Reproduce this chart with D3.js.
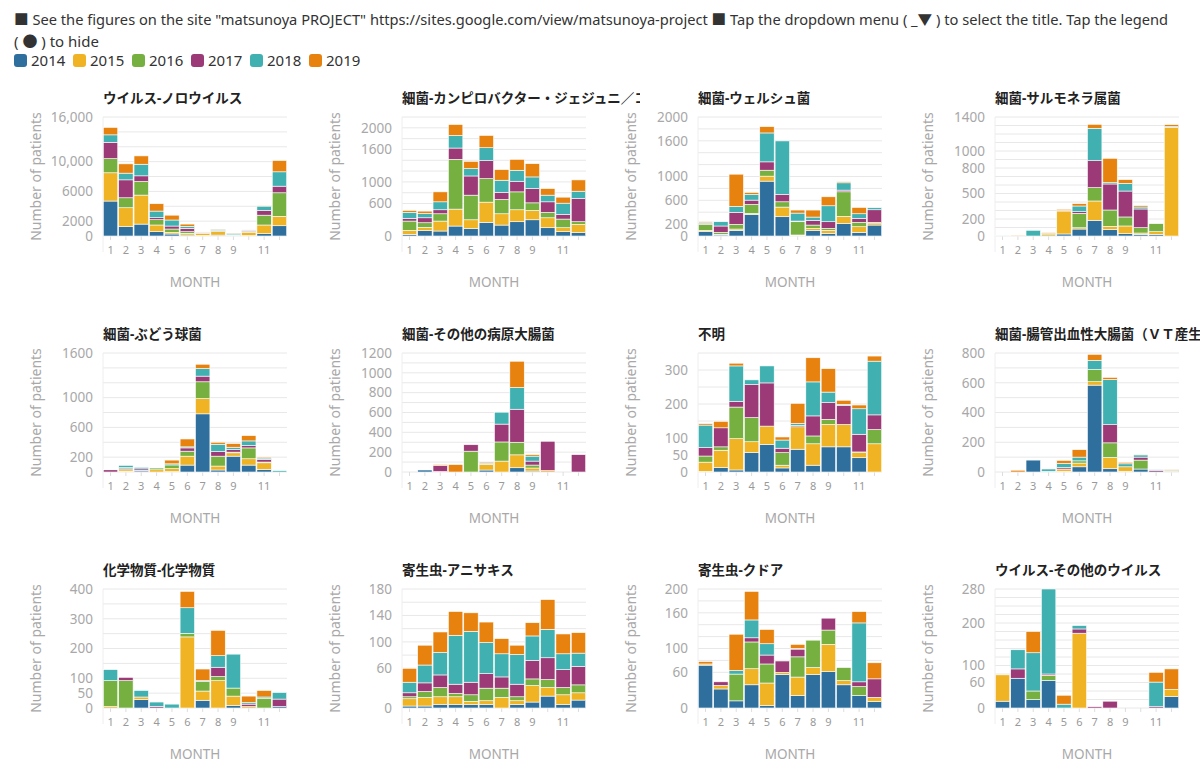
<!DOCTYPE html>
<html>
<head>
<script src="https://cdn.jsdelivr.net/npm/d3@7"></script>
<style>
  body { margin: 0; background: #fff; font-family: "Source Sans Pro", "Noto Sans", "Noto Sans CJK JP", sans-serif; }
  #chart { width: 1200px; height: 768px; }
</style>
</head>
<body>
<svg id="chart"></svg>
<script>
const years = ["2014", "2015", "2016", "2017", "2018", "2019"];
const colors = ["#2e6f9e", "#f0b323", "#76b041", "#9b3a76", "#40b0b0", "#e8820e"];
const monthLabels = ["1", "2", "3", "4", "5", "6", "7", "8", "9", "", "11", ""];

// each panel: one row per year (2014..2019), 12 monthly values
const norovirus = [
  [4700, 1250, 1600, 580, 270, 130, 80, 120, 40, 60, 310, 1380],
  [3800, 2550, 3900, 900, 220, 230, 250, 480, 60, 450, 1170, 1260],
  [1900, 1340, 1830, 710, 450, 220, 60, 120, 40, 100, 1320, 3170],
  [2200, 2410, 760, 270, 400, 450, 40, 60, 30, 150, 640, 890],
  [1000, 900, 1560, 890, 810, 270, 60, 130, 200, 50, 580, 1930],
  [1000, 1250, 1120, 990, 650, 300, 50, 30, 30, 80, 80, 1520]
];
const campylobacter = [
  [30, 98, 92, 184, 135, 252, 202, 264, 300, 153, 80, 61],
  [74, 62, 184, 313, 165, 374, 209, 221, 172, 184, 73, 154],
  [172, 85, 135, 920, 455, 435, 264, 331, 141, 99, 160, 49],
  [49, 92, 74, 209, 355, 332, 129, 196, 264, 196, 86, 429],
  [111, 80, 147, 233, 135, 239, 227, 203, 215, 123, 208, 135],
  [36, 43, 184, 202, 135, 227, 196, 202, 245, 122, 111, 209]
];
const welchii = [
  [73, 17, 95, 363, 922, 324, 5, 89, 45, 212, 61, 184],
  [22, 11, 22, 17, 84, 162, 12, 39, 50, 118, 95, 34],
  [101, 33, 79, 151, 100, 89, 223, 56, 33, 413, 73, 11],
  [11, 107, 201, 72, 140, 123, 11, 79, 112, 28, 67, 212],
  [16, 72, 100, 95, 486, 900, 134, 55, 268, 123, 78, 34],
  [17, 0, 542, 34, 106, 0, 51, 118, 151, 17, 106, 0]
];
const salmonella = [
  [3, 0, 0, 0, 24, 82, 184, 75, 27, 20, 20, 0],
  [0, 6, 0, 15, 270, 15, 228, 39, 91, 15, 31, 1278],
  [3, 0, 0, 14, 0, 170, 157, 192, 106, 63, 94, 0],
  [0, 0, 0, 0, 0, 19, 317, 306, 305, 220, 0, 0],
  [2, 0, 67, 0, 5, 67, 381, 15, 91, 23, 0, 10],
  [0, 4, 0, 10, 15, 27, 47, 287, 43, 16, 0, 22]
];
const staph = [
  [0, 9, 15, 0, 5, 93, 782, 27, 213, 93, 36, 0],
  [0, 20, 7, 30, 40, 120, 205, 53, 45, 85, 88, 0],
  [0, 15, 0, 23, 50, 67, 226, 133, 9, 146, 10, 0],
  [30, 15, 20, 0, 0, 44, 76, 63, 35, 32, 35, 0],
  [0, 30, 20, 0, 15, 14, 102, 97, 31, 62, 18, 18],
  [6, 0, 0, 0, 50, 106, 58, 27, 49, 71, 13, 0]
];
const otherEcoli = [
  [0, 20, 0, 0, 0, 20, 0, 43, 10, 0, 0, 0],
  [0, 0, 5, 0, 0, 55, 110, 130, 30, 15, 0, 0],
  [0, 0, 0, 0, 210, 5, 193, 127, 30, 0, 0, 0],
  [0, 0, 60, 0, 65, 0, 180, 333, 40, 295, 0, 175],
  [0, 0, 0, 0, 0, 10, 120, 220, 50, 0, 0, 0],
  [0, 0, 10, 75, 0, 10, 0, 264, 15, 0, 0, 0]
];
const unknown = [
  [2, 13, 6, 57, 81, 12, 67, 20, 74, 74, 42, 0],
  [27, 51, 92, 32, 54, 8, 66, 63, 66, 66, 15, 83],
  [18, 10, 93, 71, 0, 37, 0, 23, 15, 0, 2, 42],
  [25, 56, 17, 97, 127, 13, 4, 59, 49, 56, 52, 43],
  [66, 0, 104, 14, 50, 24, 6, 100, 31, 3, 75, 158],
  [4, 19, 8, 0, 0, 9, 59, 71, 69, 12, 11, 15]
];
const ehec = [
  [0, 0, 80, 5, 5, 35, 584, 22, 5, 20, 0, 0],
  [0, 0, 0, 0, 15, 25, 23, 76, 30, 0, 0, 0],
  [0, 0, 0, 0, 0, 15, 82, 98, 0, 60, 0, 5],
  [0, 0, 0, 0, 10, 0, 0, 122, 0, 20, 10, 0],
  [0, 0, 0, 15, 28, 25, 62, 304, 20, 15, 5, 5],
  [0, 12, 0, 0, 20, 50, 40, 14, 10, 5, 0, 5]
];
const chemical = [
  [0, 0, 28, 0, 0, 0, 26, 0, 9, 0, 0, 5],
  [5, 0, 9, 0, 0, 239, 31, 92, 31, 5, 0, 0],
  [87, 92, 0, 0, 0, 12, 32, 14, 27, 0, 33, 0],
  [0, 11, 0, 5, 0, 0, 0, 31, 0, 8, 0, 25],
  [37, 0, 22, 15, 13, 86, 3, 39, 114, 5, 4, 22],
  [0, 0, 0, 0, 0, 55, 39, 85, 0, 22, 22, 0]
];
const anisakis = [
  [3, 3, 5, 5, 5, 5, 0, 5, 9, 18, 5, 12],
  [11, 13, 12, 12, 5, 6, 16, 6, 25, 13, 15, 11],
  [3, 9, 14, 5, 10, 19, 14, 6, 10, 12, 11, 12],
  [6, 13, 19, 14, 19, 22, 17, 19, 28, 33, 27, 28],
  [16, 27, 34, 74, 77, 47, 35, 45, 37, 43, 24, 20],
  [21, 30, 31, 36, 28, 31, 23, 14, 20, 45, 30, 31]
];
const kudoa = [
  [72, 32, 12, 39, 4, 56, 21, 56, 61, 39, 21, 11],
  [2, 6, 0, 27, 38, 4, 31, 12, 46, 7, 0, 7],
  [0, 0, 45, 45, 32, 0, 34, 46, 24, 22, 15, 0],
  [0, 6, 0, 7, 15, 19, 13, 0, 20, 0, 8, 31],
  [0, 0, 6, 30, 19, 0, 1, 0, 0, 0, 99, 0],
  [4, 0, 61, 48, 24, 0, 7, 0, 0, 0, 19, 27]
];
const otherVirus = [
  [16, 70, 20, 65, 0, 0, 0, 0, 0, 0, 0, 27],
  [62, 0, 0, 0, 0, 176, 0, 0, 0, 0, 0, 17],
  [0, 0, 20, 12, 0, 0, 0, 0, 0, 0, 0, 0],
  [0, 22, 0, 3, 0, 10, 3, 16, 0, 0, 3, 0],
  [0, 45, 90, 200, 9, 8, 0, 0, 0, 0, 58, 0],
  [0, 0, 50, 0, 21, 0, 0, 0, 0, 0, 23, 48]
];

const panelTitles = ["ウイルス-ノロウイルス", "細菌-カンピロバクター・ジェジュニ／コリ", "細菌-ウェルシュ菌", "細菌-サルモネラ属菌",
  "細菌-ぶどう球菌", "細菌-その他の病原大腸菌", "不明", "細菌-腸管出血性大腸菌（ＶＴ産生）",
  "化学物質-化学物質", "寄生虫-アニサキス", "寄生虫-クドア", "ウイルス-その他のウイルス"];
const panelData = [norovirus, campylobacter, welchii, salmonella, staph, otherEcoli, unknown, ehec, chemical, anisakis, kudoa, otherVirus];
const panelMax = [16000, 2200, 2000, 1400, 1600, 1200, 350, 800, 400, 180, 200, 280];
const panelGrid = [2000, 200, 200, 100, 200, 100, 50, 100, 50, 20, 20, 20];
const panelTicks = [
  [0, 2000, 6000, 10000, 16000], [0, 600, 1000, 1600, 2000], [0, 200, 600, 1000, 1600, 2000], [0, 200, 500, 800, 1000, 1400],
  [0, 200, 600, 1000, 1600], [0, 200, 400, 600, 800, 1000, 1200], [0, 50, 100, 200, 300], [0, 200, 400, 600, 800],
  [0, 50, 100, 200, 300, 400], [0, 60, 100, 140, 180], [0, 60, 100, 160, 200], [0, 60, 100, 200, 280]
];

const svg = d3.select("#chart");
const fontMain = '"Source Sans Pro", "Noto Sans", "Noto Sans CJK JP", sans-serif';

// header text
svg.append("text").attr("x", 14).attr("y", 25).attr("font-size", 14.6).attr("fill", "#333").attr("font-family", fontMain)
  .attr("textLength", 1154).attr("lengthAdjust", "spacingAndGlyphs")
  .text('■ See the figures on the site "matsunoya PROJECT" https://sites.google.com/view/matsunoya-project ■ Tap the dropdown menu ( _▼ ) to select the title. Tap the legend');
svg.append("text").attr("x", 14).attr("y", 47).attr("font-size", 15).attr("fill", "#333").attr("font-family", fontMain)
  .text("( ● ) to hide");

// legend
const legend = svg.append("g").attr("transform", "translate(14,53)");
let lx = 0;
years.forEach((y, i) => {
  legend.append("rect").attr("x", lx).attr("y", 1).attr("width", 13).attr("height", 13).attr("rx", 3).attr("fill", colors[i]);
  legend.append("text").attr("x", lx + 17).attr("y", 13).attr("font-size", 15).attr("fill", "#333").attr("font-family", fontMain).text(y);
  lx += 59;
});

const colX = [103, 402, 698, 995];
const rowY = [117, 353, 589];
const pw = 184, ph = 119;
const stack = d3.stack().keys(d3.range(6));
const defs = svg.append("defs");

panelData.forEach((rows, p) => {
  const left = colX[p % 4], top = rowY[Math.floor(p / 4)];
  const g = svg.append("g").attr("transform", `translate(${left},${top})`);
  const x = d3.scaleBand().domain(d3.range(12)).range([0, pw]).paddingInner(0.06).paddingOuter(0.02);
  const y = d3.scaleLinear().domain([0, panelMax[p]]).range([ph, 0]);

  // grid
  g.append("g").selectAll("line").data(d3.range(0, panelMax[p] + 1, panelGrid[p]))
    .join("line").attr("x1", 0).attr("x2", pw).attr("y1", d => y(d)).attr("y2", d => y(d))
    .attr("stroke", "#e8e8e8").attr("stroke-width", 1);
  g.append("line").attr("x1", 0).attr("x2", 0).attr("y1", 0).attr("y2", ph + 16).attr("stroke", "#eee");

  // y axis
  const yAxis = g.append("g").call(d3.axisLeft(y).tickValues(panelTicks[p]).tickSize(0).tickPadding(10)
    .tickFormat(d => d >= 10000 ? d3.format(",")(d) : d));
  yAxis.select(".domain").remove();
  yAxis.selectAll("text").style("fill", "#a8a8a8").attr("font-size", 13.5).attr("font-family", fontMain);

  // x axis
  const xAxis = g.append("g").attr("transform", `translate(0,${ph})`)
    .call(d3.axisBottom(x).tickSize(4).tickPadding(6).tickFormat(i => monthLabels[i]));
  xAxis.select(".domain").remove();
  xAxis.selectAll("line").attr("stroke", "#ddd");
  xAxis.selectAll("text").style("fill", "#999").attr("font-size", 11).attr("font-family", fontMain);

  // stacked bars
  const table = d3.range(12).map(m => rows.map(r => r[m]));
  const series = stack(table);
  g.append("g").selectAll("g").data(series).join("g").attr("fill", (s, i) => colors[i])
    .selectAll("rect").data(s => s.map((d, m) => ({ d, m }))).join("rect")
    .attr("x", o => x(o.m)).attr("width", x.bandwidth())
    .attr("y", o => y(o.d[1])).attr("height", o => Math.max(0, y(o.d[0]) - y(o.d[1])))
    .attr("stroke", "#fff").attr("stroke-width", 0.6);

  // title clipped to panel column
  defs.append("clipPath").attr("id", "clip" + p).append("rect")
    .attr("x", -5).attr("y", -40).attr("width", p % 4 === 3 ? 400 : 243).attr("height", 40);
  g.append("text").attr("x", 0).attr("y", -14).attr("clip-path", `url(#clip${p})`)
    .attr("font-size", 13.5).attr("font-weight", "bold").attr("fill", "#222").attr("font-family", fontMain)
    .text(panelTitles[p]);

  g.append("text").attr("transform", `translate(-62,${ph / 2}) rotate(-90)`).attr("text-anchor", "middle")
    .attr("font-size", 14).attr("fill", "#a8a8a8").attr("font-family", fontMain).text("Number of patients");
  g.append("text").attr("x", pw / 2).attr("y", ph + 51).attr("text-anchor", "middle")
    .attr("font-size", 13.5).attr("fill", "#a8a8a8").attr("font-family", fontMain).text("MONTH");
});
</script>
</body>
</html>
